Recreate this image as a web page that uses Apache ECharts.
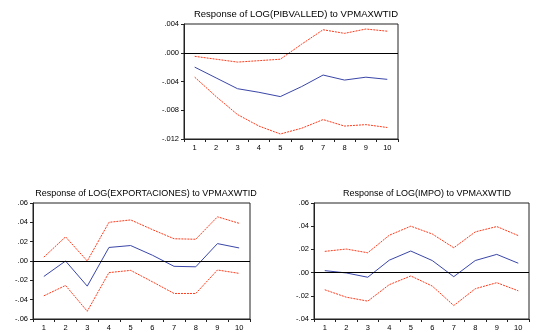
<!DOCTYPE html>
<html>
<head>
<meta charset="utf-8">
<script src="https://cdn.jsdelivr.net/npm/echarts@6/dist/echarts.min.js"></script>
<style>
  html, body { margin: 0; padding: 0; background: #ffffff; }
  #chart { width: 539px; height: 332px; }
</style>
</head>
<body>
<div id="chart"></div>
<script>
// periods 1..10
const periods = ['1', '2', '3', '4', '5', '6', '7', '8', '9', '10'];

// Response of LOG(PIBVALLED)
const pibResp  = [-0.0020, -0.0035, -0.0050, -0.0055, -0.0061, -0.0047, -0.0031, -0.0038, -0.0034, -0.0037];
const pibUpper = [-0.0005, -0.0009, -0.0013, -0.0011, -0.0009, 0.0012, 0.0032, 0.0027, 0.0033, 0.0030];
const pibLower = [-0.0034, -0.0061, -0.0086, -0.0102, -0.0113, -0.0105, -0.0093, -0.0102, -0.0100, -0.0104];

// Response of LOG(EXPORTACIONES)
const expResp  = [-0.016, 0.000, -0.026, 0.014, 0.016, 0.006, -0.0055, -0.006, 0.018, 0.0135];
const expUpper = [0.004, 0.025, 0.000, 0.040, 0.0425, 0.0325, 0.023, 0.0225, 0.0457, 0.039];
const expLower = [-0.036, -0.0253, -0.052, -0.012, -0.0097, -0.0215, -0.0336, -0.0336, -0.0093, -0.0128];

// Response of LOG(IMPO)
const impResp  = [0.0017, -0.0003, -0.0040, 0.0107, 0.0186, 0.0104, -0.0035, 0.0104, 0.0157, 0.0081];
const impUpper = [0.0183, 0.0203, 0.0171, 0.0322, 0.0400, 0.0333, 0.0214, 0.0351, 0.0397, 0.0319];
const impLower = [-0.0148, -0.0212, -0.0246, -0.0104, -0.0029, -0.0116, -0.0284, -0.0139, -0.0087, -0.0157];

const FONT = '"Liberation Sans", Arial, sans-serif';
const blue = '#3a46a8';
const red = '#ff3a1a';

// EViews style labels: .004, -.012, .00
const fmt = (digits) => (v) => {
  const s = Math.abs(v).toFixed(digits).replace(/^0/, '');
  return (v < -1e-9 ? '-' : '') + s;
};

const panels = [
  { title: 'Response of LOG(PIBVALLED) to VPMAXWTID', cx: 291, ty: 4, fs: 9.5,
    grid: { left: 184, top: 24, width: 214, height: 115 },
    min: -0.012, max: 0.004, interval: 0.004, digits: 3,
    resp: pibResp, upper: pibUpper, lower: pibLower },
  { title: 'Response of LOG(EXPORTACIONES) to VPMAXWTID', cx: 141, ty: 184, fs: 9,
    grid: { left: 33, top: 203, width: 217, height: 116 },
    min: -0.06, max: 0.06, interval: 0.02, digits: 2,
    resp: expResp, upper: expUpper, lower: expLower },
  { title: 'Response of LOG(IMPO) to VPMAXWTID', cx: 422, ty: 184, fs: 9,
    grid: { left: 314, top: 203, width: 215, height: 116 },
    min: -0.04, max: 0.06, interval: 0.02, digits: 2,
    resp: impResp, upper: impUpper, lower: impLower }
];

const option = {
  animation: false,
  backgroundColor: '#ffffff',
  title: [],
  grid: [],
  xAxis: [],
  yAxis: [],
  series: []
};

panels.forEach((p, i) => {
  option.title.push({
    text: p.title, left: p.cx, top: p.ty, textAlign: 'center',
    textStyle: { fontFamily: FONT, fontSize: p.fs, fontWeight: 'normal', color: '#000' }
  });
  option.grid.push(Object.assign({ show: true, borderColor: '#222', borderWidth: 1, backgroundColor: '#fff' }, p.grid));
  option.xAxis.push({
    type: 'category', gridIndex: i, data: periods, boundaryGap: true,
    axisLine: { onZero: false, lineStyle: { color: '#222', width: 1 } },
    axisTick: { show: true, length: 3, lineStyle: { color: '#222' } },
    axisLabel: { fontFamily: FONT, fontSize: 7.5, color: '#000', margin: 5 },
    splitLine: { show: false }
  });
  option.yAxis.push({
    type: 'value', gridIndex: i, min: p.min, max: p.max, interval: p.interval,
    axisLine: { show: true, lineStyle: { color: '#222', width: 1 } },
    axisTick: { show: true, length: 3, lineStyle: { color: '#222' } },
    axisLabel: { fontFamily: FONT, fontSize: 7.5, color: '#000', margin: 5, formatter: fmt(p.digits) },
    splitLine: { show: false }
  });
  option.series.push({
    type: 'line', xAxisIndex: i, yAxisIndex: i, data: p.resp,
    symbol: 'none', lineStyle: { color: blue, width: 1 }, z: 3,
    markLine: {
      silent: true, symbol: 'none', label: { show: false },
      lineStyle: { color: '#000', type: 'solid', width: 1 },
      data: [{ yAxis: 0 }]
    }
  });
  [p.upper, p.lower].forEach(band => {
    option.series.push({
      type: 'line', xAxisIndex: i, yAxisIndex: i, data: band,
      symbol: 'none', z: 2,
      lineStyle: { color: red, width: 1, type: [2, 1] }
    });
  });
});

const myChart = echarts.init(document.getElementById('chart'), null, { renderer: 'canvas' });
myChart.setOption(option);
</script>
</body>
</html>
